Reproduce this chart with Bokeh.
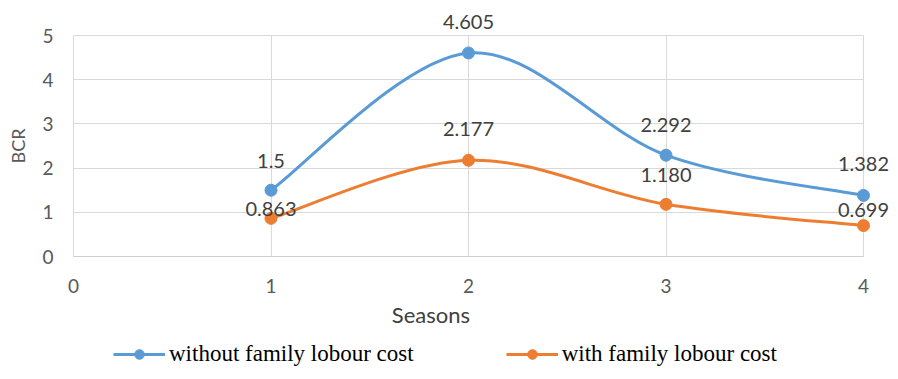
from bokeh.plotting import figure
from bokeh.models import ColumnDataSource, Legend, LegendItem, Label, FixedTicker
from bokeh.core.properties import value
from bokeh.embed import file_html
from bokeh.resources import INLINE

seasons = [1, 2, 3, 4]
without_family = [1.5, 4.605, 2.292, 1.382]
with_family = [0.863, 2.177, 1.180, 0.699]
without_labels = ["1.5", "4.605", "2.292", "1.382"]
with_labels = ["0.863", "2.177", "1.180", "0.699"]
x_ticks = [0, 1, 2, 3, 4]
y_ticks = [0, 1, 2, 3, 4, 5]
series_names = ["without family lobour cost", "with family lobour cost"]

BLUE = "#5B9BD5"
ORANGE = "#ED7D31"
SANS = "Lato"

W, H = 898, 379
L, R, T, B = 73, 863, 35, 256  # pixel extent of the data area
xpx = (R - L) / 4.0
ypx = (B - T) / 5.0
x_range = (0 - L / xpx, 4 + (W - R) / xpx)
y_range = (0 - (H - B) / ypx, 5 + T / ypx)

p = figure(width=W, height=H, output_backend="svg", toolbar_location=None,
           x_range=x_range, y_range=y_range,
           min_border_left=0, min_border_right=0, min_border_top=0, min_border_bottom=0)
p.outline_line_color = None
p.background_fill_color = "white"
p.border_fill_color = "white"

for g, t in ((p.xgrid, x_ticks), (p.ygrid, y_ticks)):
    g.grid_line_color = "#d9d9d9"
    g.grid_line_width = 1
    g.ticker = FixedTicker(ticks=t)
p.xgrid.cross_bounds = (0, 5)
p.ygrid.cross_bounds = (0, 4)

p.xaxis.ticker = FixedTicker(ticks=x_ticks)
p.yaxis.ticker = FixedTicker(ticks=y_ticks)
p.xaxis.fixed_location = 0
p.yaxis.fixed_location = 0
p.xaxis.bounds = (0, 4)
p.yaxis.bounds = (0, 5)
for ax in (p.xaxis, p.yaxis):
    ax.major_tick_line_color = None
    ax.minor_tick_line_color = None
    ax.major_label_text_font = SANS
    ax.major_label_text_font_size = "19px"
    ax.major_label_text_color = "#595959"
p.xaxis.axis_line_color = "#cfcfcf"
p.yaxis.axis_line_color = None
p.xaxis.major_label_standoff = 16
p.yaxis.major_label_standoff = 14
p.yaxis.axis_label = "BCR"
p.yaxis.axis_label_text_font = SANS
p.yaxis.axis_label_text_font_style = "normal"
p.yaxis.axis_label_text_font_size = "18px"
p.yaxis.axis_label_text_color = "#595959"
p.yaxis.axis_label_standoff = 10


def smooth_segments(xs, ys):
    n = len(xs)
    d = dict(x0=[], y0=[], x1=[], y1=[], cx0=[], cy0=[], cx1=[], cy1=[])
    for i in range(n - 1):
        a = max(i - 1, 0)
        b = min(i + 2, n - 1)
        d["x0"].append(xs[i]); d["y0"].append(ys[i])
        d["x1"].append(xs[i + 1]); d["y1"].append(ys[i + 1])
        d["cx0"].append(xs[i] + (xs[i + 1] - xs[a]) / 6)
        d["cy0"].append(ys[i] + (ys[i + 1] - ys[a]) / 6)
        d["cx1"].append(xs[i + 1] - (xs[b] - xs[i]) / 6)
        d["cy1"].append(ys[i + 1] - (ys[b] - ys[i]) / 6)
    return ColumnDataSource(d)


items = []
for vals, labels, color, name, offs in [
    (without_family, without_labels, BLUE, series_names[0], [29, 31, 30, 31]),
    (with_family, with_labels, ORANGE, series_names[1], [9, 31, 29, 16]),
]:
    p.bezier(x0="x0", y0="y0", x1="x1", y1="y1", cx0="cx0", cy0="cy0", cx1="cx1", cy1="cy1",
             source=smooth_segments(seasons, vals), line_color=color, line_width=3)
    dummy = p.line(x=[float("nan"), float("nan")], y=[float("nan"), float("nan")],
                   line_color=color, line_width=3)
    sc = p.scatter(x=seasons, y=vals, size=12, fill_color=color, line_color=color)
    src = ColumnDataSource(dict(x=seasons, y=vals, t=labels, off=[-o for o in offs]))
    p.text(x="x", y="y", text="t", y_offset="off", source=src, text_align="center",
           text_baseline="middle", text_font=value(SANS), text_font_size="20px",
           text_color="#404040")
    items.append(LegendItem(label=name, renderers=[dummy, sc]))

legend = Legend(items=items, orientation="horizontal", location=(113, 12),
                glyph_width=52, glyph_height=24, label_standoff=4, spacing=92,
                padding=0, margin=0, border_line_color=None, background_fill_alpha=0,
                label_text_font="Times New Roman", label_text_font_size="23px",
                label_text_color="#000000")
p.add_layout(legend, "center")

p.add_layout(Label(x=1.81, y=-1.32, text="Seasons", text_align="center",
                   text_baseline="middle", text_font=SANS, text_font_size="22px",
                   text_color="#404040"))

open("out.html", "w").write(file_html(p, INLINE))
